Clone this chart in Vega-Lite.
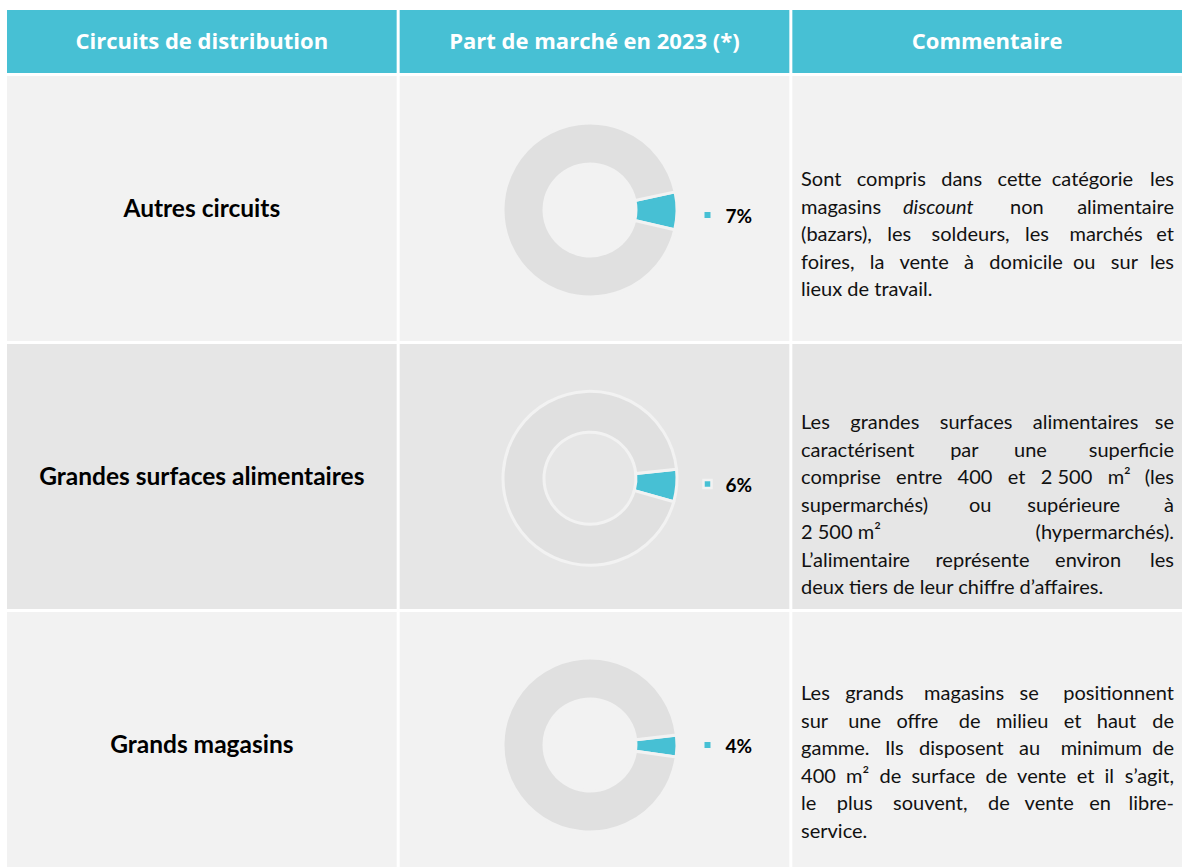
{
  "$schema": "https://vega.github.io/schema/vega-lite/v6.json",
  "padding": {"left": 7, "top": 10, "right": 0, "bottom": 0},
  "background": "white",
  "spacing": 3,
  "bounds": "flush",
  "config": {"view": {"stroke": null}, "font": "Lato"},
  "vconcat": [
    {
      "width": 1175, "height": 63,
      "data": {"values": [
        {"col": "c1", "label": "Circuits de distribution"},
        {"col": "c2", "label": "Part de marché en 2023 (*)"},
        {"col": "c3", "label": "Commentaire"}
      ]},
      "encoding": {"x": {"field": "col", "type": "nominal", "scale": {"domain": ["c1", "c2", "c3"], "paddingInner": 0.00765, "paddingOuter": 0}, "axis": null}},
      "layer": [
        {"mark": {"type": "rect", "fill": "#47C0D4"}},
        {"mark": {"type": "text", "font": "Open Sans", "fontWeight": "bold", "fontSize": 22, "color": "white", "baseline": "middle"}, "encoding": {"text": {"field": "label"}}}
      ]
    },
    {
      "width": 1175, "height": 265,
      "encoding": {"x": {"field": "col", "type": "nominal", "scale": {"domain": ["c1", "c2", "c3"], "paddingInner": 0.00765, "paddingOuter": 0}, "axis": null}},
      "layer": [
        {"data": {"values": [{"col": "c1"}, {"col": "c2"}, {"col": "c3"}]}, "mark": {"type": "rect", "fill": "#F2F2F2"}},
        {"data": {"values": [{"col": "c1", "label": "Autres circuits"}]}, "mark": {"type": "text", "fontWeight": "bold", "fontSize": 24.5, "color": "black", "baseline": "middle", "yOffset": 1.5}, "encoding": {"text": {"field": "label"}}},
        {"data": {"values": [{"col": "c2", "part": "share", "v": 7}, {"col": "c2", "part": "rest", "v": 93}]},
         "mark": {"type": "arc", "outerRadius": 87, "innerRadius": 46, "stroke": "#F2F2F2", "strokeWidth": 3, "xOffset": -4.5, "yOffset": 1.5},
         "encoding": {
           "theta": {"field": "v", "type": "quantitative", "stack": true, "scale": {"domain": [0, 100], "range": [1.361, 7.644]}},
           "color": {"field": "part", "type": "nominal", "scale": {"domain": ["share", "rest"], "range": ["#47C0D4", "#E0E0E0"]}, "legend": null},
           "order": {"field": "part", "sort": "descending"}
         }},
        {"data": {"values": [{"col": "c2", "pct": "7%"}]}, "mark": {"type": "point", "shape": "square", "filled": true, "size": 64, "color": "#47C0D4", "stroke": "#F2F2F2", "strokeWidth": 2, "opacity": 1, "xOffset": 113, "yOffset": 6.5}},
        {"data": {"values": [{"col": "c2", "pct": "7%"}]}, "mark": {"type": "text", "fontWeight": "bold", "fontSize": 19, "color": "black", "align": "left", "baseline": "middle", "dx": 131, "yOffset": 8}, "encoding": {"text": {"field": "pct"}}},
        {"data": {"values": [{"col": "c3", "t": "Sont \u00a0\u00a0compris \u00a0\u00a0dans \u00a0\u00a0cette \u00a0catégorie\nmagasins\n(bazars), \u00a0\u00a0les \u00a0\u00a0\u00a0soldeurs, \u00a0\u00a0les \u00a0\u00a0\u00a0marchés\nfoires, \u00a0\u00a0la \u00a0\u00a0vente \u00a0\u00a0à \u00a0\u00a0domicile \u00a0ou \u00a0\u00a0sur\nlieux de travail."}]},
         "mark": {"type": "text", "fontSize": 20, "color": "#111111", "align": "left", "baseline": "middle", "lineBreak": "\n", "lineHeight": 27.5, "dx": 8.7, "yOffset": -28.5},
         "encoding": {"x": {"field": "col", "type": "nominal", "bandPosition": 0}, "text": {"field": "t"}}},
        {"data": {"values": [{"col": "c3", "t": "les\nalimentaire\net\nles"}]},
         "mark": {"type": "text", "fontSize": 20, "color": "#111111", "align": "right", "baseline": "middle", "lineBreak": "\n", "lineHeight": 27.5, "dx": -8, "yOffset": -28.5},
         "encoding": {"x": {"field": "col", "type": "nominal", "bandPosition": 1}, "text": {"field": "t"}}},
        {"data": {"values": [{"col": "c3", "t": "discount"}]},
         "mark": {"type": "text", "fontSize": 20, "fontStyle": "italic", "color": "#111111", "align": "left", "baseline": "middle", "dx": 110.7, "yOffset": -1},
         "encoding": {"x": {"field": "col", "type": "nominal", "bandPosition": 0}, "text": {"field": "t"}}},
        {"data": {"values": [{"col": "c3", "t": "non"}]},
         "mark": {"type": "text", "fontSize": 20, "color": "#111111", "align": "left", "baseline": "middle", "dx": 217.7, "yOffset": -1},
         "encoding": {"x": {"field": "col", "type": "nominal", "bandPosition": 0}, "text": {"field": "t"}}}
      ]
    },
    {
      "width": 1175, "height": 265,
      "encoding": {"x": {"field": "col", "type": "nominal", "scale": {"domain": ["c1", "c2", "c3"], "paddingInner": 0.00765, "paddingOuter": 0}, "axis": null}},
      "layer": [
        {"data": {"values": [{"col": "c1"}, {"col": "c2"}, {"col": "c3"}]}, "mark": {"type": "rect", "fill": "#E6E6E6"}},
        {"data": {"values": [{"col": "c1", "label": "Grandes surfaces alimentaires"}]}, "mark": {"type": "text", "fontWeight": "bold", "fontSize": 24.5, "color": "black", "baseline": "middle", "yOffset": 1}, "encoding": {"text": {"field": "label"}}},
        {"data": {"values": [{"col": "c2", "part": "share", "v": 6}, {"col": "c2", "part": "rest", "v": 94}]},
         "mark": {"type": "arc", "outerRadius": 87, "innerRadius": 46, "stroke": "#F2F2F2", "strokeWidth": 3, "xOffset": -4.5, "yOffset": 1.8},
         "encoding": {
           "theta": {"field": "v", "type": "quantitative", "stack": true, "scale": {"domain": [0, 100], "range": [1.466, 7.749]}},
           "color": {"field": "part", "type": "nominal", "scale": {"domain": ["share", "rest"], "range": ["#47C0D4", "#E0E0E0"]}, "legend": null},
           "order": {"field": "part", "sort": "descending"}
         }},
        {"data": {"values": [{"col": "c2", "pct": "6%"}]}, "mark": {"type": "point", "shape": "square", "filled": true, "size": 64, "color": "#47C0D4", "stroke": "#F2F2F2", "strokeWidth": 2.5, "opacity": 1, "xOffset": 113, "yOffset": 7.5}},
        {"data": {"values": [{"col": "c2", "pct": "6%"}]}, "mark": {"type": "text", "fontWeight": "bold", "fontSize": 19, "color": "black", "align": "left", "baseline": "middle", "dx": 131, "yOffset": 9}, "encoding": {"text": {"field": "pct"}}},
        {"data": {"values": [{"col": "c3", "t": "Les \u00a0\u00a0\u00a0grandes \u00a0\u00a0\u00a0surfaces \u00a0\u00a0\u00a0alimentaires\ncaractérisent \u00a0\u00a0\u00a0\u00a0\u00a0\u00a0par \u00a0\u00a0\u00a0\u00a0\u00a0\u00a0une\ncomprise \u00a0\u00a0entre \u00a0\u00a0400 \u00a0\u00a0et \u00a0\u00a02\u00a0500 \u00a0\u00a0m²\nsupermarchés) \u00a0\u00a0\u00a0\u00a0\u00a0\u00a0\u00a0ou \u00a0\u00a0\u00a0\u00a0\u00a0\u00a0supérieure\n2\u00a0500 m²\nL’alimentaire \u00a0\u00a0\u00a0\u00a0représente \u00a0\u00a0\u00a0\u00a0environ\ndeux tiers de leur chiffre d’affaires."}]},
         "mark": {"type": "text", "fontSize": 20, "color": "#111111", "align": "left", "baseline": "middle", "lineBreak": "\n", "lineHeight": 27.5, "dx": 8.7, "yOffset": -53.5},
         "encoding": {"x": {"field": "col", "type": "nominal", "bandPosition": 0}, "text": {"field": "t"}}},
        {"data": {"values": [{"col": "c3", "t": "se\nsuperficie\n(les\nà\n(hypermarchés).\nles"}]},
         "mark": {"type": "text", "fontSize": 20, "color": "#111111", "align": "right", "baseline": "middle", "lineBreak": "\n", "lineHeight": 27.5, "dx": -8, "yOffset": -53.5},
         "encoding": {"x": {"field": "col", "type": "nominal", "bandPosition": 1}, "text": {"field": "t"}}}
      ]
    },
    {
      "width": 1175, "height": 265,
      "encoding": {"x": {"field": "col", "type": "nominal", "scale": {"domain": ["c1", "c2", "c3"], "paddingInner": 0.00765, "paddingOuter": 0}, "axis": null}},
      "layer": [
        {"data": {"values": [{"col": "c1"}, {"col": "c2"}, {"col": "c3"}]}, "mark": {"type": "rect", "fill": "#F2F2F2"}},
        {"data": {"values": [{"col": "c1", "label": "Grands magasins"}]}, "mark": {"type": "text", "fontWeight": "bold", "fontSize": 24.5, "color": "black", "baseline": "middle", "yOffset": 1.5}, "encoding": {"text": {"field": "label"}}},
        {"data": {"values": [{"col": "c2", "part": "share", "v": 4}, {"col": "c2", "part": "rest", "v": 96}]},
         "mark": {"type": "arc", "outerRadius": 87, "innerRadius": 46, "stroke": "#F2F2F2", "strokeWidth": 3, "xOffset": -4.5, "yOffset": 0.5},
         "encoding": {
           "theta": {"field": "v", "type": "quantitative", "stack": true, "scale": {"domain": [0, 100], "range": [1.457, 7.740]}},
           "color": {"field": "part", "type": "nominal", "scale": {"domain": ["share", "rest"], "range": ["#47C0D4", "#E0E0E0"]}, "legend": null},
           "order": {"field": "part", "sort": "descending"}
         }},
        {"data": {"values": [{"col": "c2", "pct": "4%"}]}, "mark": {"type": "point", "shape": "square", "filled": true, "size": 64, "color": "#47C0D4", "stroke": "#F2F2F2", "strokeWidth": 2, "opacity": 1, "xOffset": 113, "yOffset": 0.5}},
        {"data": {"values": [{"col": "c2", "pct": "4%"}]}, "mark": {"type": "text", "fontWeight": "bold", "fontSize": 19, "color": "black", "align": "left", "baseline": "middle", "dx": 131, "yOffset": 2}, "encoding": {"text": {"field": "pct"}}},
        {"data": {"values": [{"col": "c3", "t": "Les \u00a0\u00a0grands \u00a0\u00a0\u00a0magasins \u00a0\u00a0se\nsur \u00a0\u00a0\u00a0une \u00a0\u00a0offre \u00a0\u00a0\u00a0de \u00a0\u00a0milieu \u00a0\u00a0et \u00a0\u00a0haut\ngamme. \u00a0\u00a0Ils \u00a0\u00a0disposent \u00a0\u00a0au \u00a0\u00a0\u00a0minimum\n400 \u00a0m² \u00a0de \u00a0surface \u00a0de \u00a0vente \u00a0et \u00a0il\nle \u00a0\u00a0\u00a0plus \u00a0\u00a0\u00a0souvent, \u00a0\u00a0\u00a0de \u00a0\u00a0vente \u00a0\u00a0en\nservice."}]},
         "mark": {"type": "text", "fontSize": 20, "color": "#111111", "align": "left", "baseline": "middle", "lineBreak": "\n", "lineHeight": 27.5, "dx": 8.7, "yOffset": -50.5},
         "encoding": {"x": {"field": "col", "type": "nominal", "bandPosition": 0}, "text": {"field": "t"}}},
        {"data": {"values": [{"col": "c3", "t": "positionnent\nde\nde\ns’agit,\nlibre-"}]},
         "mark": {"type": "text", "fontSize": 20, "color": "#111111", "align": "right", "baseline": "middle", "lineBreak": "\n", "lineHeight": 27.5, "dx": -8, "yOffset": -50.5},
         "encoding": {"x": {"field": "col", "type": "nominal", "bandPosition": 1}, "text": {"field": "t"}}}
      ]
    }
  ]
}
